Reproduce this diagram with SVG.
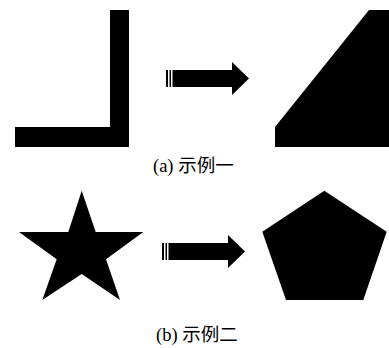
<svg xmlns="http://www.w3.org/2000/svg" width="389" height="348" viewBox="0 0 389 348">
<style>
.s{fill:#000;stroke:none}
.t{font-family:"Liberation Serif","Noto Sans CJK SC",serif;font-size:18.5px;fill:#000}
</style>
<defs>
<g id="arrow">
<rect x="0" y="0" width="2" height="17" class="s"/>
<rect x="3.5" y="0" width="1.5" height="17" class="s"/>
<rect x="6.5" y="0" width="60" height="17" class="s"/>
<polygon points="66,-8 83,8.5 66,25" class="s"/>
</g>
</defs>
<rect width="389" height="348" fill="#fff"/>
<g id="shape-L"><polygon class="s" points="110,10 129,10 129,147 15,147 15,127 110,127"/></g>
<g id="shape-trapezoid"><polygon class="s" points="369,10 389,10 389,147 275,147 275,127"/></g>
<g id="star"><polygon class="s" points="81.7,190.7 95.7,232 143.3,232 106,259.3 120,300 81.7,274 42.3,300 56.7,259.3 19,232 68.3,232"/></g>
<g id="pentagon"><polygon class="s" points="324.3,190.7 386.7,231.7 363.3,300 286,300 262.3,231.7"/></g>
<g id="connectors">
<use href="#arrow" x="166" y="70"/>
<use href="#arrow" x="162" y="243"/>
</g>
<g id="label-a"><text class="t" x="153" y="172">(a) 示例一</text></g>
<g id="label-b"><text class="t" x="156" y="341">(b) 示例二</text></g>
</svg>
